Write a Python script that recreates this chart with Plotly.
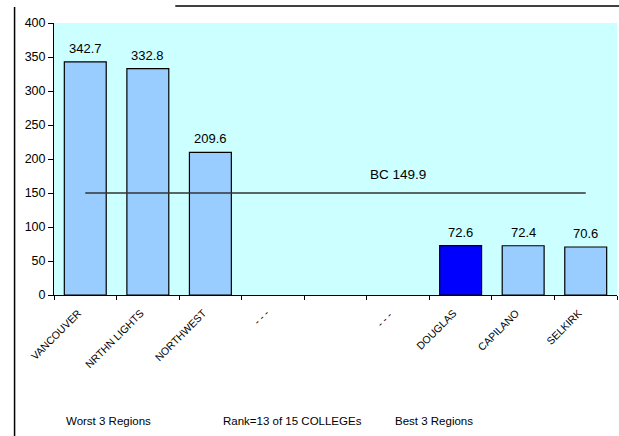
import plotly.graph_objects as go

categories = ["VANCOUVER", "NRTHN LIGHTS", "NORTHWEST", "- - -", " ", "- - - ", "DOUGLAS", "CAPILANO", "SELKIRK"]
values = [342.7, 332.8, 209.6, None, None, None, 72.6, 72.4, 70.6]
bar_colors = ["#99CCFF", "#99CCFF", "#99CCFF", "#99CCFF", "#99CCFF", "#99CCFF", "#0000FF", "#99CCFF", "#99CCFF"]
bc_value = 149.9
bc_label = "BC 149.9"
y_ticks = [0, 50, 100, 150, 200, 250, 300, 350, 400]
footer = ["Worst 3 Regions", "Rank=13 of 15 COLLEGEs", "Best 3 Regions"]

FONT = "Liberation Sans, Arial, sans-serif"

W, H = 619, 436
L, R, T, B = 53.5, 617.5, 23, 295  # plot area edges (page px)
PW, PH = R - L, B - T


def px_x(x):
    return (x - L) / PW


def px_y(y):
    return (B - y) / PH


footer_x = [108, 292, 434]

fig = go.Figure()
fig.add_trace(go.Bar(
    x=categories, y=values,
    marker=dict(color=bar_colors, line=dict(color="#000000", width=1.2)),
    showlegend=False, hoverinfo="x+y",
))
fig.add_trace(go.Scatter(
    x=[categories[0], categories[-1]], y=[bc_value, bc_value],
    mode="lines", line=dict(color="#333333", width=1.5),
    showlegend=False, hoverinfo="skip",
))

annotations = []
for c, v in zip(categories, values):
    if v is not None:
        annotations.append(dict(
            x=c, y=v, xref="x", yref="y", text=f"{v:.1f}", showarrow=False,
            yanchor="bottom", yshift=4, font=dict(family=FONT, size=13, color="#000000"),
        ))
annotations.append(dict(
    x=categories[5], y=bc_value, xref="x", yref="y", text=bc_label, showarrow=False,
    yanchor="middle", yshift=19, font=dict(family=FONT, size=13.5, color="#000000"),
))
for t, px in zip(footer, footer_x):
    annotations.append(dict(
        x=px_x(px), y=px_y(421), xref="paper", yref="paper", text=t, showarrow=False,
        xanchor="center", yanchor="middle", font=dict(family=FONT, size=11.5, color="#000000"),
    ))

shapes = [
    dict(type="line", xref="paper", yref="paper",
         x0=px_x(14), x1=px_x(14), y0=px_y(440), y1=px_y(7),
         line=dict(color="#000000", width=1.5)),
    dict(type="line", xref="paper", yref="paper",
         x0=px_x(175), x1=px_x(625), y0=px_y(6), y1=px_y(6),
         line=dict(color="#000000", width=1.5)),
]

fig.update_layout(
    width=W, height=H,
    margin=dict(l=L, r=W - R, t=T, b=H - B, pad=0),
    paper_bgcolor="#FFFFFF", plot_bgcolor="#CCFFFF",
    bargap=0.33,
    font=dict(family=FONT, size=11, color="#000000"),
    annotations=annotations, shapes=shapes,
    xaxis=dict(
        type="category", categoryorder="array", categoryarray=categories,
        tickson="boundaries", ticks="outside", ticklen=4, tickcolor="#000000",
        showline=True, linecolor="#000000", linewidth=1,
        tickangle=-45, tickfont=dict(family=FONT, size=10.5),
        ticklabelstandoff=7, ticklabelshift=-7,
        showgrid=False, zeroline=False, range=[-0.5, 8.5],
    ),
    yaxis=dict(
        range=[0, 400], tickvals=y_ticks, ticks="outside", ticklen=5, tickcolor="#000000",
        showline=True, linecolor="#000000", linewidth=1,
        showgrid=False, zeroline=False, tickfont=dict(family=FONT, size=12.5),
    ),
)

fig.write_html(
    "out.html",
    config={"displayModeBar": False},
    post_script=(
        "document.documentElement.style.overflow='hidden';"
        "document.body.style.overflow='hidden';"
        "document.body.style.margin='0';"
    ),
)
